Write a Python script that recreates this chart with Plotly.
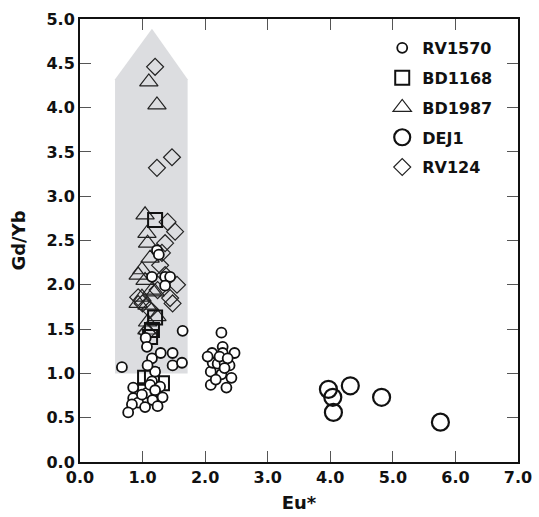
import plotly.graph_objects as go

# Shaded field polygon (Eu*, Gd/Yb)
field_x = [0.56, 0.56, 1.15, 1.72, 1.72, 0.56]
field_y = [1.00, 4.32, 4.89, 4.32, 1.00, 1.00]

# RV1570 (small circles)
rv1570_x = [1.23, 1.26, 1.15, 1.36, 1.44, 1.36, 1.64, 1.05, 1.07, 1.15, 1.29, 1.48, 1.48, 1.63,
            0.67, 1.20, 1.15, 0.85, 1.28, 1.07, 1.32, 0.85, 1.16, 0.93, 0.83, 1.04, 1.24, 0.77,
            1.12, 0.99, 1.20, 1.08,
            2.26, 2.11, 2.28, 2.47, 2.28, 2.09, 2.26, 2.42, 2.09, 2.34, 2.12, 2.20, 2.31, 2.39,
            2.04, 2.23, 2.36, 2.17, 2.31]
rv1570_y = [2.39, 2.34, 2.09, 2.09, 2.09, 1.99, 1.48, 1.40, 1.30, 1.17, 1.23, 1.23, 1.09, 1.12,
            1.07, 1.02, 0.91, 0.84, 0.85, 0.78, 0.73, 0.72, 0.70, 0.67, 0.65, 0.62, 0.63, 0.56,
            0.87, 0.76, 0.81, 1.09,
            1.46, 1.23, 1.30, 1.23, 1.23, 1.02, 0.99, 0.95, 0.87, 0.84, 1.12, 1.11, 1.12, 1.09,
            1.19, 1.19, 1.17, 0.93, 1.06]

# BD1168 (squares)
bd1168_x = [1.20, 1.20, 1.15, 1.12, 1.15, 1.04, 1.31, 1.04]
bd1168_y = [2.73, 1.63, 1.49, 1.41, 0.98, 0.95, 0.89, 0.81]

# BD1987 (triangles)
bd1987_x = [1.10, 1.23, 1.04, 1.07, 1.08, 1.12, 0.99, 0.93, 1.04, 1.15, 0.99, 0.93, 1.07, 1.20,
            1.23, 1.08, 1.07]
bd1987_y = [4.29, 4.03, 2.79, 2.58, 2.47, 2.30, 2.17, 2.11, 2.05, 1.94, 1.86, 1.79, 1.77, 1.92,
            1.64, 1.58, 1.49]

# DEJ1 (large circles)
dej1_x = [3.97, 4.04, 4.05, 4.32, 4.82, 5.76]
dej1_y = [0.82, 0.73, 0.56, 0.86, 0.73, 0.45]

# RV124 (diamonds)
rv124_x = [1.20, 1.23, 1.47, 1.40, 1.52, 1.36, 1.31, 1.28, 1.55, 1.44, 1.48, 0.93, 1.00, 1.07,
           1.36, 1.24, 1.12]
rv124_y = [4.46, 3.32, 3.44, 2.71, 2.60, 2.47, 2.36, 2.22, 2.00, 1.85, 1.79, 1.86, 1.79, 1.46,
           2.11, 1.94, 1.72]

x_ticks = [0, 1, 2, 3, 4, 5, 6, 7]
y_ticks = [0, 0.5, 1, 1.5, 2, 2.5, 3, 3.5, 4, 4.5, 5]
x_ticktext = ["<b>0.0</b>", "<b>1.0</b>", "<b>2.0</b>", "<b>3.0</b>", "<b>4.0</b>",
              "<b>5.0</b>", "<b>6.0</b>", "<b>7.0</b>"]
y_ticktext = ["<b>0.0</b>", "<b>0.5</b>", "<b>1.0</b>", "<b>1.5</b>", "<b>2.0</b>",
              "<b>2.5</b>", "<b>3.0</b>", "<b>3.5</b>", "<b>4.0</b>", "<b>4.5</b>", "<b>5.0</b>"]

FONT = "DejaVu Sans, Liberation Sans, Arial, sans-serif"

fig = go.Figure()

fig.add_trace(go.Scatter(x=field_x, y=field_y, mode="lines", fill="toself",
                         fillcolor="#dcdde0", line=dict(width=0), showlegend=False,
                         hoverinfo="skip"))

fig.add_trace(go.Scatter(x=rv124_x, y=rv124_y, mode="markers", name="<b>RV124</b>",
                         legendrank=5, legendgroup="e",
                         marker=dict(symbol="diamond-open", size=13, color="#222",
                                     line=dict(width=1.2, color="#222"))))
fig.add_trace(go.Scatter(x=bd1987_x, y=bd1987_y, mode="markers", name="<b>BD1987</b>",
                         legendrank=3, legendgroup="c",
                         marker=dict(symbol="triangle-up-open", size=16, color="#222",
                                     line=dict(width=1.2, color="#222"))))
fig.add_trace(go.Scatter(x=bd1168_x, y=bd1168_y, mode="markers", name="<b>BD1168</b>",
                         legendrank=2, legendgroup="b",
                         marker=dict(symbol="square-open", size=14, color="#111",
                                     line=dict(width=2, color="#111"))))
fig.add_trace(go.Scatter(x=rv1570_x, y=rv1570_y, mode="markers", name="<b>RV1570</b>",
                         legendrank=1, legendgroup="a",
                         marker=dict(symbol="circle", size=10, color="white",
                                     line=dict(width=1.8, color="#111"))))
fig.add_trace(go.Scatter(x=dej1_x, y=dej1_y, mode="markers", name="<b>DEJ1</b>",
                         legendrank=4, legendgroup="d",
                         marker=dict(symbol="circle", size=17, color="rgba(0,0,0,0)",
                                     line=dict(width=2.2, color="#111"))))

axis_common = dict(showgrid=False, zeroline=False, showline=True, linewidth=2,
                   linecolor="#111", mirror="ticks", ticks="inside", ticklen=11,
                   tickwidth=1.3, tickcolor="#555", automargin=False,
                   tickfont=dict(family=FONT, size=16, color="#111"))

fig.update_layout(
    width=539, height=517,
    margin=dict(l=80, r=21, t=19, b=55),
    paper_bgcolor="white", plot_bgcolor="white",
    xaxis=dict(range=[0, 7], tickvals=x_ticks, ticktext=x_ticktext, **axis_common,
               title=dict(text="<b>Eu*</b>", standoff=10,
                          font=dict(family=FONT, size=18, color="#111"))),
    yaxis=dict(range=[0, 5], tickvals=y_ticks, ticktext=y_ticktext, **axis_common,
               title=dict(text="<b>Gd/Yb</b>", standoff=16,
                          font=dict(family=FONT, size=18, color="#111"))),
    legend=dict(x=0.69, y=0.973, xanchor="left", yanchor="top",
                bgcolor="rgba(0,0,0,0)", tracegroupgap=6, traceorder="grouped",
                font=dict(family=FONT, size=16, color="#111")),
    showlegend=True,
)

fig.write_html("out.html")
